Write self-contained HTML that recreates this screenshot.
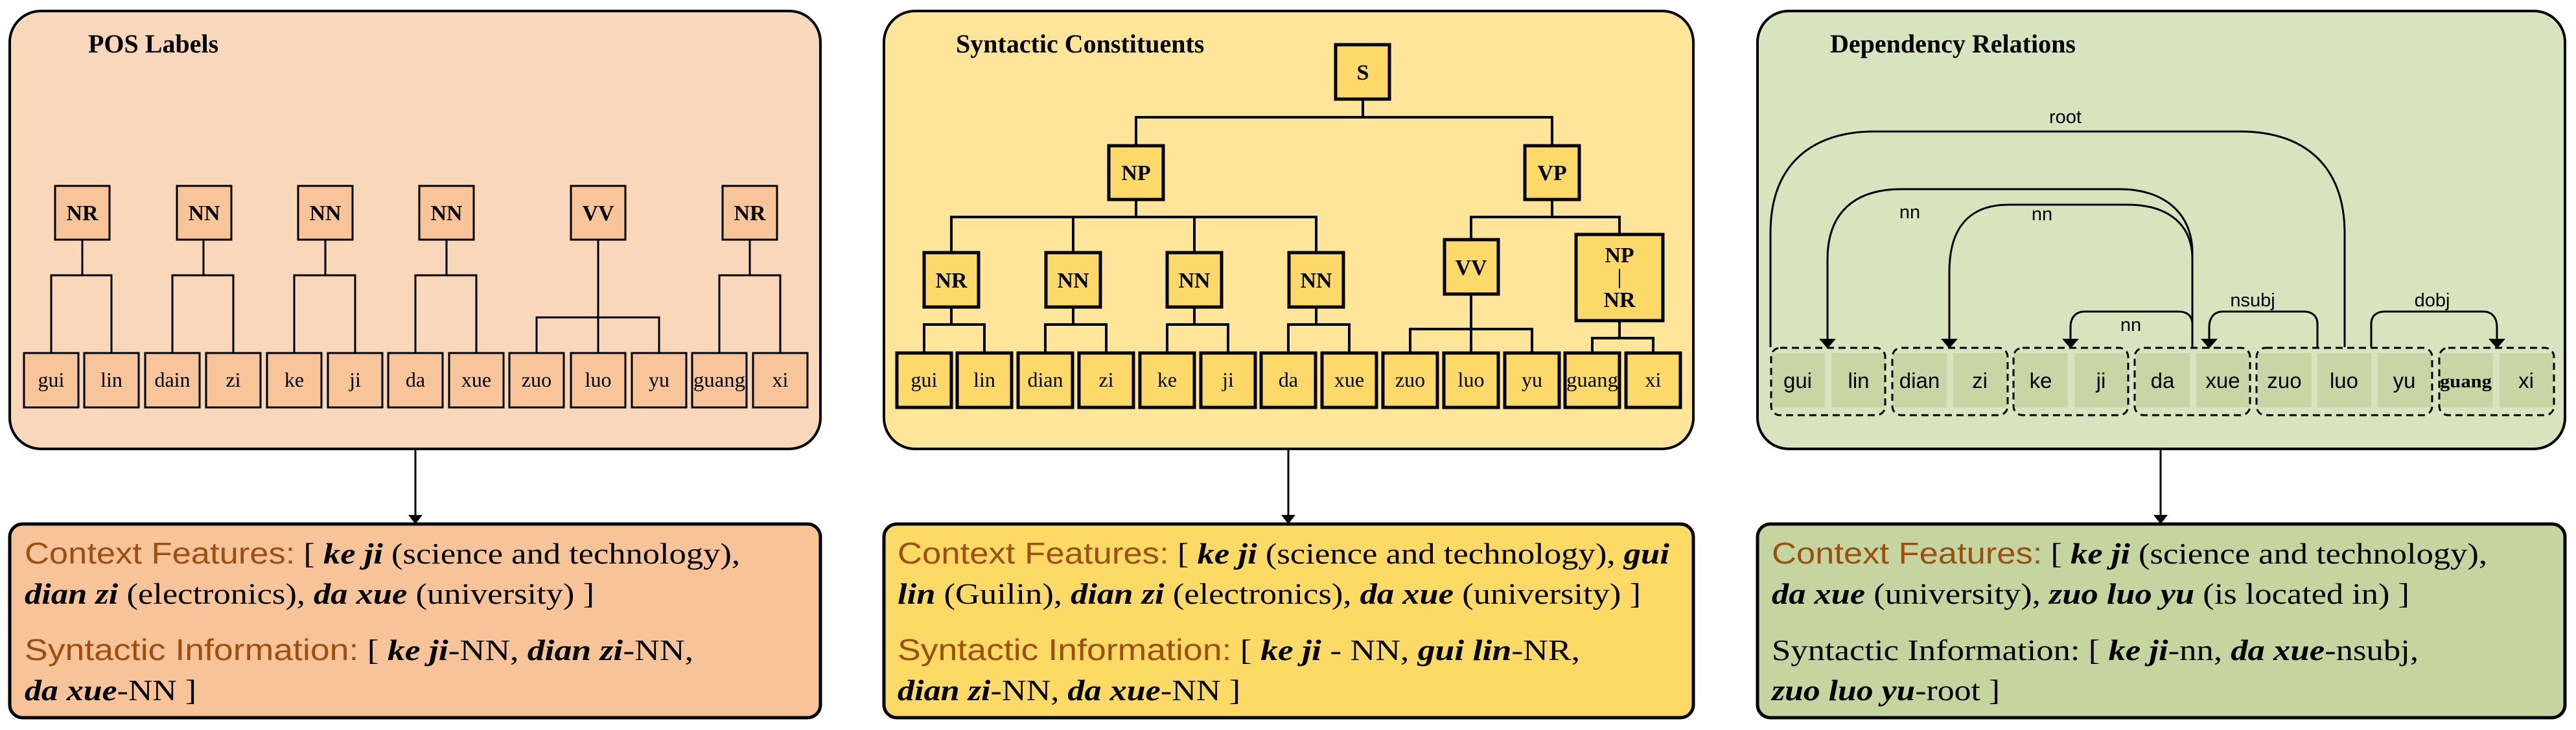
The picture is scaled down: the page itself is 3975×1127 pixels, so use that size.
<!DOCTYPE html>
<html><head><meta charset="utf-8"><style>html,body{margin:0;padding:0;background:#fff}svg{display:block}</style></head>
<body>
<svg xmlns="http://www.w3.org/2000/svg" width="3975" height="1127" viewBox="0 0 3975 1127">
<defs>
<style>
.ser{font-family:"Liberation Serif",serif}
.san{font-family:"Liberation Sans",sans-serif}
.ttl{font-family:"Liberation Serif",serif;font-weight:bold;font-size:40px}
.w{font-family:"Liberation Serif",serif;font-size:32px;text-anchor:middle}
.tg{font-family:"Liberation Serif",serif;font-weight:bold;font-size:34px;text-anchor:middle}
.dw{font-family:"Liberation Sans",sans-serif;font-size:33px;text-anchor:middle}
.lb{font-family:"Liberation Sans",sans-serif;font-size:29px;text-anchor:middle}
.bt{font-family:"Liberation Serif",serif;font-size:46px}
.or{font-family:"Liberation Sans",sans-serif;fill:#9C4F10}
.bi{font-style:italic;font-weight:bold}
</style>
</defs>

<!-- PANEL 1 -->
<rect x="15" y="17" width="1251" height="676" rx="48" fill="#F9D7BB" stroke="#000" stroke-width="4"/>
<text class="ttl" x="136" y="81">POS Labels</text>
<g stroke="#000" stroke-width="3" fill="none">
<path d="M127 370V425M79 545V425H172V545"/>
<path d="M314 370V425M266 545V425H360V545"/>
<path d="M502 370V425M454 545V425H548V545"/>
<path d="M689 370V425M641 545V425H735V545"/>
<path d="M923 370V545M828 545V490H1017V545"/>
<path d="M1157 370V425M1110 545V425H1204V545"/>
</g>
<g fill="#F8C49A" stroke="#000" stroke-width="3">
<rect x="85" y="287" width="84" height="83"/><rect x="273" y="287" width="84" height="83"/>
<rect x="460" y="287" width="84" height="83"/><rect x="647" y="287" width="84" height="83"/>
<rect x="881" y="287" width="84" height="83"/><rect x="1115" y="287" width="84" height="83"/>
<rect x="37" y="545" width="84" height="84"/><rect x="130" y="545" width="84" height="84"/>
<rect x="224" y="545" width="84" height="84"/><rect x="318" y="545" width="84" height="84"/>
<rect x="412" y="545" width="84" height="84"/><rect x="506" y="545" width="84" height="84"/>
<rect x="599" y="545" width="84" height="84"/><rect x="693" y="545" width="84" height="84"/>
<rect x="786" y="545" width="84" height="84"/><rect x="881" y="545" width="84" height="84"/>
<rect x="975" y="545" width="84" height="84"/><rect x="1068" y="545" width="84" height="84"/>
<rect x="1162" y="545" width="84" height="84"/>
</g>
<g class="tg"><text x="127" y="340">NR</text><text x="315" y="340">NN</text><text x="502" y="340">NN</text><text x="689" y="340">NN</text><text x="923" y="340">VV</text><text x="1157" y="340">NR</text></g>
<g class="w"><text x="79" y="597">gui</text><text x="172" y="597">lin</text><text x="266" y="597">dain</text><text x="360" y="597">zi</text><text x="454" y="597">ke</text><text x="548" y="597">ji</text><text x="641" y="597">da</text><text x="735" y="597">xue</text><text x="828" y="597">zuo</text><text x="923" y="597">luo</text><text x="1017" y="597">yu</text><text x="1110" y="597" textLength="80" lengthAdjust="spacingAndGlyphs">guang</text><text x="1204" y="597">xi</text></g>
<path d="M641 693V795" stroke="#000" stroke-width="3"/>
<polygon points="630,795 652,795 641,809" fill="#000"/>
<rect x="15" y="809" width="1251" height="299" rx="20" fill="#F7C49A" stroke="#000" stroke-width="5"/>
<text class="bt" x="38" y="870" textLength="1104" lengthAdjust="spacingAndGlyphs"><tspan class="or">Context Features:</tspan> [ <tspan class="bi">ke ji</tspan> (science and technology),</text>
<text class="bt" x="38" y="932" textLength="879" lengthAdjust="spacingAndGlyphs"><tspan class="bi">dian zi</tspan> (electronics), <tspan class="bi">da xue</tspan> (university) ]</text>
<text class="bt" x="38" y="1019" textLength="1032" lengthAdjust="spacingAndGlyphs"><tspan class="or">Syntactic Information:</tspan> [ <tspan class="bi">ke ji</tspan>-NN, <tspan class="bi">dian zi</tspan>-NN,</text>
<text class="bt" x="38" y="1081" textLength="265" lengthAdjust="spacingAndGlyphs"><tspan class="bi">da xue</tspan>-NN ]</text>

<!-- PANEL 2 -->
<rect x="1364" y="17" width="1249" height="676" rx="48" fill="#FEE599" stroke="#000" stroke-width="4"/>
<text class="ttl" x="1475" y="81">Syntactic Constituents</text>
<g stroke="#000" stroke-width="4" fill="none">
<path d="M2103 153V181M1753 225V181H2395V225"/>
<path d="M1753 308V335M1468 390V335H2031V390M1656 335V390M1843 335V390"/>
<path d="M2395 308V335M2270 370V335H2499V362"/>
<path d="M1468 474V501M1426 545V501H1519V545"/>
<path d="M1656 474V501M1613 545V501H1707V545"/>
<path d="M1843 474V501M1801 545V501H1895V545"/>
<path d="M2031 474V501M1988 545V501H2082V545"/>
<path d="M2270 454V545M2176 545V508H2364V545"/>
<path d="M2499 495V522M2457 545V522H2551V545"/>
</g>
<g fill="#FDD96A" stroke="#000" stroke-width="5">
<rect x="2061" y="69" width="83" height="84"/>
<rect x="1711" y="225" width="84" height="83"/><rect x="2353" y="225" width="84" height="83"/>
<rect x="1426" y="390" width="84" height="84"/><rect x="1614" y="390" width="84" height="84"/>
<rect x="1801" y="390" width="84" height="84"/><rect x="1989" y="390" width="84" height="84"/>
<rect x="2229" y="370" width="83" height="84"/><rect x="2432" y="362" width="134" height="133"/>
<rect x="1384" y="545" width="84" height="84"/><rect x="1477" y="545" width="84" height="84"/>
<rect x="1571" y="545" width="84" height="84"/><rect x="1665" y="545" width="84" height="84"/>
<rect x="1759" y="545" width="84" height="84"/><rect x="1853" y="545" width="84" height="84"/>
<rect x="1946" y="545" width="84" height="84"/><rect x="2040" y="545" width="84" height="84"/>
<rect x="2134" y="545" width="84" height="84"/><rect x="2228" y="545" width="84" height="84"/>
<rect x="2322" y="545" width="84" height="84"/><rect x="2415" y="545" width="84" height="84"/>
<rect x="2509" y="545" width="84" height="84"/>
</g>
<g class="tg"><text x="2103" y="123">S</text><text x="1753" y="278">NP</text><text x="2395" y="278">VP</text>
<text x="1468" y="444">NR</text><text x="1656" y="444">NN</text><text x="1843" y="444">NN</text><text x="2031" y="444">NN</text>
<text x="2270" y="424">VV</text><text x="2499" y="405">NP</text><text x="2499" y="474">NR</text></g>
<path d="M2499 415V445" stroke="#000" stroke-width="2"/>
<g class="w"><text x="1426" y="597">gui</text><text x="1519" y="597">lin</text><text x="1613" y="597">dian</text><text x="1707" y="597">zi</text><text x="1801" y="597">ke</text><text x="1895" y="597">ji</text><text x="1988" y="597">da</text><text x="2082" y="597">xue</text><text x="2176" y="597">zuo</text><text x="2270" y="597">luo</text><text x="2364" y="597">yu</text><text x="2457" y="597" textLength="80" lengthAdjust="spacingAndGlyphs">guang</text><text x="2551" y="597">xi</text></g>
<path d="M1988 693V795" stroke="#000" stroke-width="3"/>
<polygon points="1977,795 1999,795 1988,809" fill="#000"/>
<rect x="1364" y="809" width="1249" height="299" rx="20" fill="#FDD966" stroke="#000" stroke-width="5"/>
<text class="bt" x="1385" y="870" textLength="1191" lengthAdjust="spacingAndGlyphs"><tspan class="or">Context Features:</tspan> [ <tspan class="bi">ke ji</tspan> (science and technology), <tspan class="bi">gui</tspan></text>
<text class="bt" x="1385" y="932" textLength="1147" lengthAdjust="spacingAndGlyphs"><tspan class="bi">lin</tspan> (Guilin), <tspan class="bi">dian zi</tspan> (electronics), <tspan class="bi">da xue</tspan> (university) ]</text>
<text class="bt" x="1385" y="1019" textLength="1053" lengthAdjust="spacingAndGlyphs"><tspan class="or">Syntactic Information:</tspan> [ <tspan class="bi">ke ji</tspan> - NN, <tspan class="bi">gui lin</tspan>-NR,</text>
<text class="bt" x="1385" y="1081" textLength="529" lengthAdjust="spacingAndGlyphs"><tspan class="bi">dian zi</tspan>-NN, <tspan class="bi">da xue</tspan>-NN ]</text>

<!-- PANEL 3 -->
<rect x="2712" y="17" width="1246" height="676" rx="48" fill="#D8E4BD" stroke="#000" stroke-width="4"/>
<text class="ttl" x="2824" y="81">Dependency Relations</text>
<g fill="#C6D6A4">
<rect x="2733" y="545" width="83" height="84"/><rect x="2826" y="545" width="83" height="84"/>
<rect x="2921" y="545" width="83" height="84"/><rect x="3014" y="545" width="83" height="84"/>
<rect x="3108" y="545" width="83" height="84"/><rect x="3201" y="545" width="83" height="84"/>
<rect x="3296" y="545" width="83" height="84"/><rect x="3389" y="545" width="83" height="84"/>
<rect x="3484" y="545" width="83" height="84"/><rect x="3576" y="545" width="83" height="84"/>
<rect x="3669" y="545" width="83" height="84"/><rect x="3764" y="545" width="83" height="84"/>
<rect x="3857" y="545" width="83" height="84"/>
</g>
<g fill="none" stroke="#000" stroke-width="3" stroke-dasharray="11 7">
<rect x="2733" y="537" width="176" height="104" rx="14"/>
<rect x="2920" y="537" width="178" height="104" rx="14"/>
<rect x="3107" y="537" width="177" height="104" rx="14"/>
<rect x="3294" y="537" width="178" height="104" rx="14"/>
<rect x="3482" y="537" width="271" height="104" rx="14"/>
<rect x="3764" y="537" width="177" height="104" rx="14"/>
</g>
<g class="dw"><text x="2774" y="599">gui</text><text x="2868" y="599">lin</text><text x="2962" y="599">dian</text><text x="3055" y="599">zi</text><text x="3149" y="599">ke</text><text x="3242" y="599">ji</text><text x="3337" y="599">da</text><text x="3430" y="599">xue</text><text x="3525" y="599">zuo</text><text x="3617" y="599">luo</text><text x="3710" y="599">yu</text><text x="3859" y="599" style="display:none"></text><text x="3898" y="599">xi</text></g>
<text x="3805" y="598" class="ser" style="font-weight:bold;font-size:29px;text-anchor:middle" textLength="80" lengthAdjust="spacingAndGlyphs">guang</text>
<g fill="none" stroke="#000" stroke-width="3">
<path d="M2732 536V360C2732 250 2800 203 2892 203H3457C3560 203 3618 260 3618 360V536"/>
<path d="M3383 536V390C3383 330 3340 292 3271 292H2934C2860 292 2820 330 2820 400V525"/>
<path d="M3383 536V400C3383 350 3350 316 3282 316H3100C3040 316 3008 350 3008 420V525"/>
<path d="M3383 536V500C3383 488 3375 481 3362 481H3217C3203 481 3195 490 3195 505V525"/>
<path d="M3576 536V500C3576 488 3568 481 3555 481H3430C3417 481 3409 490 3409 505V525"/>
<path d="M3659 536V500C3659 488 3667 481 3680 481H3832C3845 481 3853 490 3853 505V525"/>
</g>
<g fill="#000">
<polygon points="2807,523 2833,523 2820,538"/>
<polygon points="2995,523 3021,523 3008,538"/>
<polygon points="3182,523 3208,523 3195,538"/>
<polygon points="3396,523 3422,523 3409,538"/>
<polygon points="3840,523 3866,523 3853,538"/>
</g>
<g class="lb"><text x="3187" y="190">root</text><text x="2947" y="337">nn</text><text x="3151" y="340">nn</text><text x="3288" y="511">nn</text><text x="3476" y="473">nsubj</text><text x="3753" y="473">dobj</text></g>
<path d="M3334 693V795" stroke="#000" stroke-width="3"/>
<polygon points="3323,795 3345,795 3334,809" fill="#000"/>
<rect x="2712" y="809" width="1246" height="299" rx="20" fill="#C5D5A0" stroke="#000" stroke-width="5"/>
<text class="bt" x="2734" y="870" textLength="1104" lengthAdjust="spacingAndGlyphs"><tspan class="or">Context Features:</tspan> [ <tspan class="bi">ke ji</tspan> (science and technology),</text>
<text class="bt" x="2734" y="932" textLength="984" lengthAdjust="spacingAndGlyphs"><tspan class="bi">da xue</tspan> (university), <tspan class="bi">zuo luo yu</tspan> (is located in) ]</text>
<text class="bt" x="2734" y="1019" textLength="998" lengthAdjust="spacingAndGlyphs">Syntactic Information: [ <tspan class="bi">ke ji</tspan>-nn, <tspan class="bi">da xue</tspan>-nsubj,</text>
<text class="bt" x="2734" y="1081" textLength="352" lengthAdjust="spacingAndGlyphs"><tspan class="bi">zuo luo yu</tspan>-root ]</text>
</svg>
</body></html>
